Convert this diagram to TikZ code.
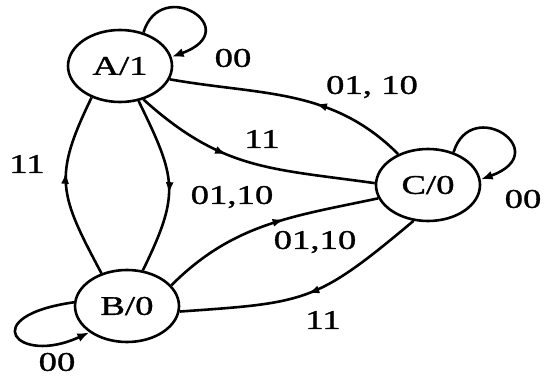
\documentclass[tikz,border=0pt]{standalone}
\usepackage{fontspec}
\setmainfont{Liberation Serif}
\newfontface\diagfont{Liberation Serif}[FakeStretch=1.36, RawFeature={embolden=1.2}]
\usetikzlibrary{shapes.geometric,arrows.meta,decorations.markings}
\tikzset{
  state/.style={draw, ellipse, line width=2.6pt, minimum width=104pt, minimum height=72pt, inner sep=0pt, font=\diagfont\fontsize{27}{30}\selectfont},
  edge/.style={line width=2.6pt},
  midarrow/.style={postaction={decorate}, decoration={markings, mark=at position #1 with {\arrow{Latex[length=12pt,width=8pt]}}}},
  endarrow/.style={-{Latex[length=12pt,width=9pt]}},
  lab/.style={font=\diagfont\fontsize{27}{30}\selectfont, inner sep=0pt}
}
\begin{document}
\begin{tikzpicture}[x=1pt,y=1pt]
\useasboundingbox (0,0) rectangle (544,378);
\node[state] (A) at (120,312) {A/1};
\node[state] (B) at (127,72) {B/0};
\node[state] (C) at (428,193) {C/0};
% self loops
\draw[edge,endarrow] (A.55) .. controls +(73:60) and +(20:80) .. (A.10);
\draw[edge,endarrow] (C.52) .. controls +(73:60) and +(20:80) .. (C.6);
\draw[edge,endarrow] (B.176) .. controls +(188:100) and +(205:80) .. (B.-145);
% transitions
\draw[edge,midarrow=0.4] (C.134) to[out=135,in=-10] (A.-15);
\draw[edge,midarrow=0.4] (A.-55) to[out=-42,in=172,looseness=1.1] (C.178);
\draw[edge,midarrow=0.55] (A.-62) to[out=-64,in=64,looseness=1.3] (B.66);
\draw[edge,midarrow=0.58] (B.128) to[out=118,in=-116,looseness=1.3] (A.-132);
\draw[edge,midarrow=0.58] (B.25) to[out=45,in=192] (C.-165);
\draw[edge,midarrow=0.5] (C.-112) to[out=-140,in=4,looseness=1.3] (B.-6);
% labels
\node[lab] (l1) at (233,320) {00};
\node[lab] (l2) at (372,291) {01, 10};
\node[lab] (l3) at (262,239) {11};
\node[lab] (l4) at (27,214) {11};
\node[lab] (l5) at (232,181) {01,10};
\node[lab] (l6) at (315,136) {01,10};
\node[lab] (l7) at (323,58) {11};
\node[lab] (l8) at (523,179) {00};
\node[lab] (l9) at (57,16) {00};
\end{tikzpicture}
\end{document}
